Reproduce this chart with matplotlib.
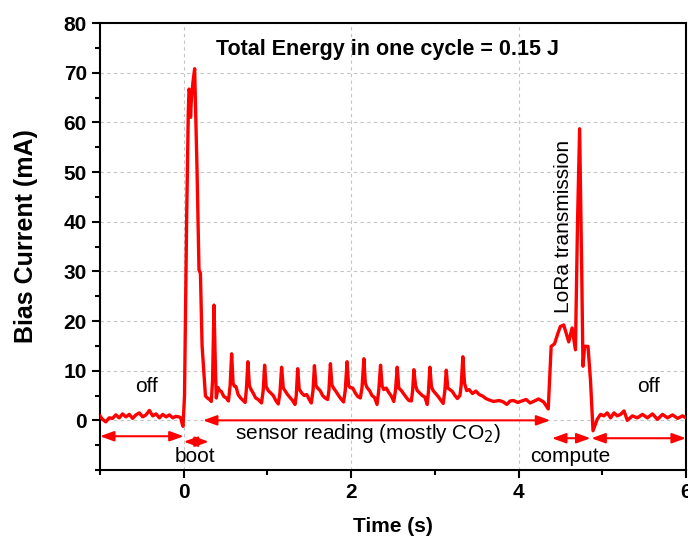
import numpy as np
import matplotlib
matplotlib.use('Agg')
import matplotlib.pyplot as plt
from matplotlib.ticker import MultipleLocator

## Data (time in s, current in mA)
# off before the cycle
t_off1 = [-1.0, -0.97, -0.93, -0.89, -0.85, -0.81, -0.77, -0.73, -0.69, -0.65,
          -0.61, -0.57, -0.53, -0.49, -0.45, -0.41, -0.37, -0.33, -0.29, -0.25,
          -0.21, -0.17, -0.13, -0.095, -0.056, -0.036, -0.016, -0.008]
i_off1 = [0.9, 0.2, -0.3, 0.5, 0.4, 1.1, 0.5, 1.3, 0.7, 1.2,
          0.4, 1.1, 1.5, 0.7, 1.1, 2.0, 0.9, 1.3, 0.5, 1.2,
          0.7, 1.1, 0.5, 0.8, 0.7, 0.5, -0.8, -1.2]

# boot
t_boot = [0.01, 0.035, 0.055, 0.064, 0.075, 0.082, 0.09, 0.11, 0.131, 0.16,
          0.183, 0.2, 0.22, 0.26, 0.29, 0.31, 0.33]
i_boot = [5.0, 40.0, 62.0, 66.7, 66.0, 61.0, 64.0, 68.0, 70.8, 50.0,
          30.3, 29.6, 15.0, 4.9, 4.4, 4.2, 3.8]

# sensor reading
t_sens = [0.345, 0.362, 0.38, 0.39, 0.41, 0.43, 0.45, 0.48, 0.51, 0.535,
          0.555, 0.573, 0.59, 0.605, 0.625, 0.65, 0.68, 0.71, 0.735,
          0.75, 0.767, 0.785, 0.805, 0.83, 0.86, 0.89, 0.93,
          0.95, 0.967, 0.985, 1.01, 1.04, 1.07, 1.10, 1.13,
          1.15, 1.170, 1.19, 1.21, 1.24, 1.27, 1.30, 1.33,
          1.345, 1.362, 1.38, 1.41, 1.44, 1.47, 1.50, 1.525,
          1.545, 1.562, 1.58, 1.60, 1.63, 1.66, 1.69, 1.72,
          1.735, 1.753, 1.77, 1.79, 1.82, 1.85, 1.88, 1.91,
          1.93, 1.952, 1.97, 1.99, 2.02, 2.05, 2.08, 2.11,
          2.13, 2.153, 2.17, 2.19, 2.22, 2.25, 2.28, 2.31,
          2.33, 2.352, 2.37, 2.39, 2.42, 2.45, 2.48, 2.51,
          2.53, 2.551, 2.57, 2.60, 2.63, 2.66, 2.69, 2.72,
          2.735, 2.75, 2.77, 2.79, 2.82, 2.85, 2.88, 2.91,
          2.925, 2.941, 2.96, 2.98, 3.01, 3.04, 3.07, 3.10,
          3.12, 3.137, 3.155, 3.18, 3.21, 3.24, 3.27, 3.30,
          3.315, 3.335, 3.355, 3.38, 3.41, 3.45, 3.49, 3.53, 3.57, 3.61,
          3.65, 3.70, 3.77, 3.82, 3.86, 3.90, 3.94, 3.99, 4.04, 4.09,
          4.14, 4.19, 4.24, 4.30, 4.355]
i_sens = [8.0, 23.2, 10.0, 4.5, 6.6, 6.0, 5.8, 4.8, 4.5, 3.9,
          7.0, 13.4, 7.5, 6.9, 6.8, 5.2, 4.5, 4.0, 3.6,
          6.5, 11.8, 7.0, 6.2, 5.5, 4.5, 4.2, 3.5,
          6.0, 11.1, 6.8, 6.0, 5.5, 5.0, 4.0, 3.3,
          5.5, 10.7, 6.5, 6.0, 5.2, 4.6, 4.0, 3.2,
          5.0, 10.4, 6.3, 5.5, 5.0, 5.2, 4.2, 3.5,
          6.0, 11.0, 7.0, 6.5, 6.0, 5.0, 4.5, 4.2,
          6.0, 11.4, 7.2, 6.5, 5.8, 5.0, 4.3, 3.7,
          6.0, 11.8, 7.0, 6.6, 6.5, 5.5, 4.8, 4.5,
          6.5, 12.4, 7.5, 6.6, 6.0, 5.0, 4.6, 3.2,
          6.0, 11.1, 7.0, 6.2, 6.5, 5.6, 4.9, 3.8,
          6.0, 10.7, 6.5, 6.0, 5.3, 4.6, 4.0, 3.9,
          6.0, 10.2, 7.0, 6.0, 5.5, 5.0, 4.7, 3.2,
          6.0, 10.7, 6.8, 6.0, 5.4, 4.8, 4.1, 3.4,
          6.0, 10.1, 6.5, 6.2, 5.8, 5.0, 4.4, 5.0,
          7.0, 12.8, 7.5, 6.0, 6.2, 5.4, 5.9, 5.2, 4.9, 4.4,
          4.1, 3.8, 4.0, 3.7, 3.2, 3.9, 4.0, 3.6, 3.9, 4.2,
          3.5, 3.9, 4.3, 3.7, 2.3]

# LoRa transmission + compute
t_lora = [4.39, 4.43, 4.47, 4.50, 4.54, 4.57, 4.60, 4.64, 4.68, 4.705,
          4.73, 4.755, 4.77, 4.79, 4.83, 4.86, 4.89]
i_lora = [14.9, 15.4, 17.5, 18.9, 19.2, 17.5, 15.8, 18.6, 14.2, 40.0,
          58.7, 30.0, 10.9, 14.9, 14.9, 8.0, -2.1]

# off after the cycle
t_off2 = [4.94, 4.98, 5.02, 5.06, 5.10, 5.14, 5.18, 5.22, 5.26, 5.30,
          5.36, 5.42, 5.48, 5.54, 5.60, 5.66, 5.72, 5.78, 5.84, 5.90,
          5.96, 6.0]
i_off2 = [0.2, 1.2, 0.9, 1.5, 0.5, 1.5, 0.9, 1.2, 1.9, 0.0,
          0.9, 0.5, 1.2, 0.5, 1.3, 0.2, 1.2, 0.5, 1.1, 0.4,
          0.9, 0.5]

t = np.concatenate([t_off1, t_boot, t_sens, t_lora, t_off2])
cur = np.concatenate([i_off1, i_boot, i_sens, i_lora, i_off2])

## Phase arrows: (start, end, height)
arrows = [(-1.0, 0.0, -3.2),
          (0.0, 0.3, -4.3),
          (0.23, 4.38, 0.0),
          (4.40, 4.86, -3.6),
          (4.87, 6.0, -3.6)]

## Style
plt.rcParams['font.family'] = ['Liberation Sans', 'DejaVu Sans']
plt.rcParams['axes.linewidth'] = 1.5

fig = plt.figure(figsize=(6.88, 5.4), dpi=100)
ax = fig.add_axes([0.1453, 0.1296, 0.997 - 0.1453, 0.9574 - 0.1296])

ax.plot(t, cur, color='red', lw=2.4, zorder=3)

ax.set_xlim(-1, 6)
ax.set_ylim(-10, 80)
ax.xaxis.set_major_locator(MultipleLocator(2))
ax.xaxis.set_minor_locator(MultipleLocator(1))
ax.yaxis.set_major_locator(MultipleLocator(10))
ax.yaxis.set_minor_locator(MultipleLocator(5))
ax.set_yticks([0, 10, 20, 30, 40, 50, 60, 70, 80])
ax.tick_params(which='major', direction='out', length=6, width=1.5,
               labelsize=15, top=False, right=False)
ax.tick_params(which='minor', direction='out', length=3.5, width=1.5,
               top=False, right=False)
for lab in ax.get_xticklabels() + ax.get_yticklabels():
    lab.set_fontweight('bold')

ax.grid(True, which='major', color='#c4c4c4', lw=0.8, linestyle=(0, (3, 3)))
ax.set_axisbelow(True)

ax.set_xlabel('Time (s)', fontsize=15, fontweight='bold')
ax.set_ylabel('Bias Current (mA)', fontsize=18, fontweight='bold')
ax.xaxis.set_label_coords(0.5, -0.105)
ax.yaxis.set_label_coords(-0.106, 0.523)

## Labels
ax.text(2.43, 74.6, 'Total Energy in one cycle = 0.15 J', fontsize=15.5,
        fontweight='bold', ha='center', va='center')
ax.text(-0.45, 6.8, 'off', fontsize=15, ha='center', va='center')
ax.text(5.55, 6.8, 'off', fontsize=15, ha='center', va='center')
ax.text(0.14, -7.3, 'boot', fontsize=15, ha='center', va='center')
ax.text(4.62, -7.3, 'compute', fontsize=15, ha='center', va='center')
ax.text(2.2, -2.7, 'sensor reading (mostly CO$_2$)', fontsize=15,
        ha='center', va='center')
ax.text(4.54, 39, 'LoRa transmission', fontsize=15, rotation=90,
        ha='center', va='center')

for x0, x1, y in arrows:
    ax.annotate('', xy=(x1, y), xytext=(x0, y), annotation_clip=False,
                arrowprops=dict(arrowstyle='<|-|>, head_length=0.55, head_width=0.2',
                                color='red', lw=1.5, shrinkA=0, shrinkB=0,
                                mutation_scale=15))

plt.savefig('out.png', dpi=100)
